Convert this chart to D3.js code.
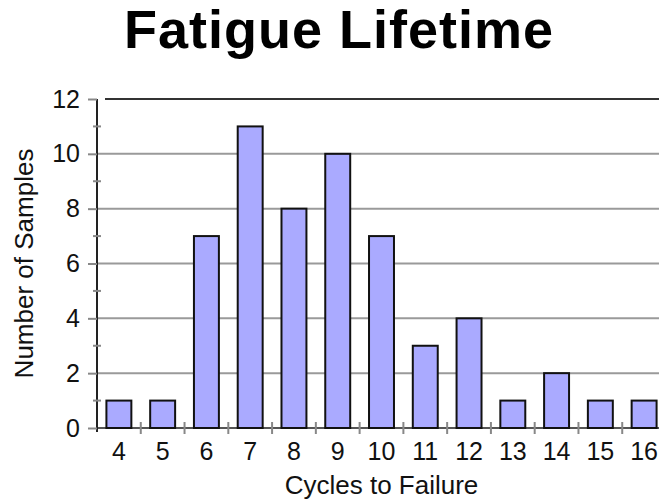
<!DOCTYPE html>
<html>
<head>
<meta charset="utf-8">
<script src="https://cdn.jsdelivr.net/npm/d3@7"></script>
<style>
  body { margin: 0; background: #fff; }
  svg { display: block; font-family: "Liberation Sans", Arial, sans-serif; }
</style>
</head>
<body>
<div id="chart"></div>
<script>
// Chart data
const cycles = [4, 5, 6, 7, 8, 9, 10, 11, 12, 13, 14, 15, 16];
const samples = [1, 1, 7, 11, 8, 10, 7, 3, 4, 1, 2, 1, 1];
const yTicks = [0, 2, 4, 6, 8, 10, 12];
const yMinorTicks = [1, 3, 5, 7, 9, 11];

const width = 659, height = 500;

// Plot area (the right side runs past the window edge, like the original)
const plot = { left: 97, right: 666, top: 99, bottom: 428 };

const svg = d3.select("#chart")
    .append("svg")
    .attr("width", width)
    .attr("height", height);

const x = d3.scaleBand()
    .domain(cycles)
    .range([plot.left, plot.right])
    .paddingInner(0.43)
    .paddingOuter(0.215);

const y = d3.scaleLinear()
    .domain([0, 12])
    .range([plot.bottom, plot.top]);

// Horizontal gridlines
svg.append("g")
    .selectAll("line")
    .data(yTicks.filter(d => d > 0 && d < 12))
    .join("line")
    .attr("x1", plot.left)
    .attr("x2", width)
    .attr("y1", d => y(d))
    .attr("y2", d => y(d))
    .attr("stroke", "#9a9a9a")
    .attr("stroke-width", 2);

// Top border line at 12
svg.append("line")
    .attr("x1", plot.left + 8)
    .attr("x2", width)
    .attr("y1", y(12))
    .attr("y2", y(12))
    .attr("stroke", "#333")
    .attr("stroke-width", 2);

// Baseline with small cross ticks between categories
const xAxis = d3.axisBottom(x).tickSize(0).tickPadding(14);
const gx = svg.append("g")
    .attr("transform", `translate(0,${y(0)})`)
    .call(xAxis);
gx.select(".domain").attr("stroke", "#555").attr("stroke-width", 2)
    .attr("d", `M${plot.left},0H${width}`);
gx.selectAll("text")
    .attr("font-size", 25)
    .attr("fill", "#111")
    .attr("font-family", "Liberation Sans, Arial, sans-serif");

const step = x.step();
svg.append("g")
    .selectAll("line")
    .data(cycles.slice(1))
    .join("line")
    .attr("x1", d => x(d) - (step - x.bandwidth()) / 2)
    .attr("x2", d => x(d) - (step - x.bandwidth()) / 2)
    .attr("y1", y(0) - 6)
    .attr("y2", y(0) + 6)
    .attr("stroke", "#888")
    .attr("stroke-width", 2);

// Bars
svg.append("g")
    .selectAll("rect")
    .data(cycles.map((c, i) => ({ c, v: samples[i] })))
    .join("rect")
    .attr("x", d => x(d.c))
    .attr("y", d => y(d.v))
    .attr("width", x.bandwidth())
    .attr("height", d => y(0) - y(d.v))
    .attr("fill", "#aaaaff")
    .attr("stroke", "#111")
    .attr("stroke-width", 2);

// Y axis
const yAxis = d3.axisLeft(y).tickValues(yTicks).tickSize(9).tickPadding(8);
const gy = svg.append("g")
    .attr("transform", `translate(${plot.left},0)`)
    .call(yAxis);
gy.select(".domain").attr("stroke", "#222").attr("stroke-width", 2)
    .attr("d", `M0,${plot.top}V${plot.bottom + 4}`);
gy.selectAll(".tick line").attr("stroke", "#888").attr("stroke-width", 2);
gy.selectAll("text")
    .attr("font-size", 25)
    .attr("fill", "#111")
    .attr("font-family", "Liberation Sans, Arial, sans-serif");

// Minor y ticks crossing the axis
svg.append("g")
    .selectAll("line")
    .data(yMinorTicks)
    .join("line")
    .attr("x1", plot.left - 4)
    .attr("x2", plot.left + 4)
    .attr("y1", d => y(d))
    .attr("y2", d => y(d))
    .attr("stroke", "#888")
    .attr("stroke-width", 2);

// Title
svg.append("text")
    .attr("x", 339)
    .attr("y", 48)
    .attr("text-anchor", "middle")
    .attr("font-size", 54)
    .attr("font-weight", "bold")
    .attr("letter-spacing", 1)
    .attr("fill", "#000")
    .text("Fatigue Lifetime");

// Axis titles
svg.append("text")
    .attr("x", (plot.left + plot.right) / 2)
    .attr("y", 494)
    .attr("text-anchor", "middle")
    .attr("font-size", 26)
    .attr("fill", "#111")
    .text("Cycles to Failure");

svg.append("text")
    .attr("transform", `translate(33,${(plot.top + plot.bottom) / 2}) rotate(-90)`)
    .attr("text-anchor", "middle")
    .attr("font-size", 26)
    .attr("fill", "#111")
    .text("Number of Samples");
</script>
</body>
</html>
